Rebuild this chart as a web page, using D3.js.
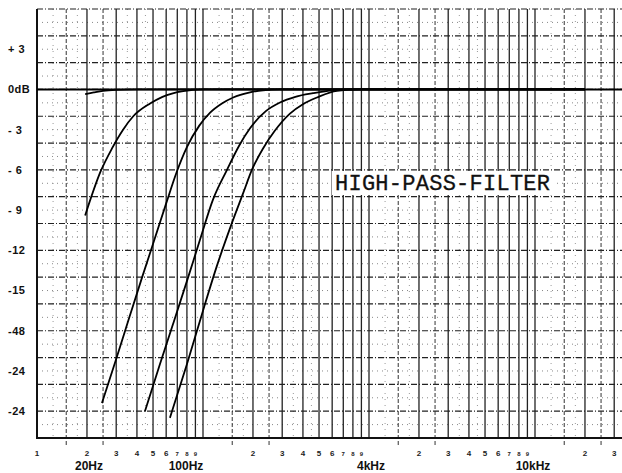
<!DOCTYPE html>
<html>
<head>
<meta charset="utf-8">
<script src="https://cdn.jsdelivr.net/npm/d3@7"></script>
<style>
body{margin:0;background:#fff;}
svg{display:block;}
</style>
</head>
<body>
<svg></svg>
<script>
// response curves, [Hz, dB]
var curveFlat = [[19.5,-0.35],[22,-0.22],[25,-0.1],[30,-0.03],[40,0],[20000,0]];
var curveA = [[19.5,-9.4],[24.2,-6.1],[28.3,-4.4],[33,-3.0],[38,-2.0],[48,-1.05],[57,-0.55],[76,-0.12],[100,0],[20000,0]];
var curveB = [[24.6,-23.4],[30,-20.1],[36,-17.0],[43,-14.0],[51,-11.2],[60,-8.5],[69.7,-6.1],[80,-4.3],[95,-2.7],[110,-1.75],[130,-1.05],[152,-0.6],[192,-0.22],[230,-0.06],[291,0],[20000,0]];
var curveC = [[44.7,-24],[55,-20.5],[66,-17.5],[80,-14.3],[96,-11.2],[115,-8.2],[139.5,-6],[165,-4.2],[192,-2.9],[240,-1.6],[291,-0.97],[360,-0.55],[460,-0.28],[607,-0.07],[883,0],[20000,0]];
var curveD = [[63.2,-24.5],[80,-20.5],[100,-16.5],[121,-13.2],[150,-9.9],[175,-7.7],[197,-6],[230,-4.4],[270,-3.1],[334,-1.8],[400,-1.1],[486,-0.6],[641,-0.1],[883,0],[20000,0]];
var curves = [curveFlat, curveA, curveB, curveC, curveD];

var yLabelVals = [3,0,-3,-6,-9,-12,-15,-18,-21,-24];
var yLabels = ["+ 3","0dB","- 3","- 6","- 9","-12","-15","-48","-24","-24"];
var decades = [10,100,1000,10000];
var smallDigits = ["1","2","3","4","5","6","7","8","9"];
var bigLabelFreqs = [20,100,1000,10000];
var bigLabels = ["20Hz","100Hz","4kHz","10kHz"];
var bigLabelShift = [2,-17,2,-2];
var title = "HIGH-PASS-FILTER";

var width = 622, height = 473;
var pLeft = 37, pRight = 622, pTop = 9, pBottom = 438;

var svg = d3.select("svg").attr("width", width).attr("height", height);

var x = d3.scaleLog().domain([10, 10000]).range([pLeft, 535]);
var y = d3.scaleLinear().domain([6, -26]).range([pTop, pBottom]);

// frequency grid
var major = [], minor = [];
decades.forEach(function(d){
	for(var k=1;k<10;k++){
		if(x(d*k) <= pRight) major.push(d*k);
	}
	[1.5,2.5].forEach(function(m){ if(x(d*m) <= pRight) minor.push(d*m); });
});
var faint = [];
decades.forEach(function(d){
	[1.25,1.75,3.5,4.5].forEach(function(m){ if(x(d*m) <= pRight) faint.push(d*m); });
});

var dbEven = d3.range(6, -27, -2);
var dbOdd = d3.range(5, -26, -2);

svg.selectAll(".hodd").data(dbOdd)
	.enter().append("line")
	.attr("x1", pLeft).attr("x2", pRight)
	.attr("y1", d => y(d)).attr("y2", d => y(d))
	.style("stroke", "#888").style("stroke-width", 1)
	.style("stroke-dasharray", "1,4");

svg.selectAll(".vfaint").data(faint)
	.enter().append("line")
	.attr("x1", d => x(d)).attr("x2", d => x(d))
	.attr("y1", pTop).attr("y2", pBottom)
	.style("stroke", "#999").style("stroke-width", 1)
	.style("stroke-dasharray", "1,5");

svg.selectAll(".heven").data(dbEven)
	.enter().append("line")
	.attr("x1", pLeft).attr("x2", pRight)
	.attr("y1", d => y(d)).attr("y2", d => y(d))
	.style("stroke", "#222").style("stroke-width", 1.2)
	.style("stroke-dasharray", "6,2,1,2");

svg.selectAll(".vminor").data(minor)
	.enter().append("line")
	.attr("x1", d => x(d)).attr("x2", d => x(d))
	.attr("y1", pTop).attr("y2", pBottom+8)
	.style("stroke", "#333").style("stroke-width", 1)
	.style("stroke-dasharray", "4,2");

svg.selectAll(".vmajor").data(major)
	.enter().append("line")
	.attr("x1", d => x(d)).attr("x2", d => x(d))
	.attr("y1", pTop).attr("y2", pBottom)
	.style("stroke", "#222").style("stroke-width", 1.3);

// frame
svg.append("line").attr("x1", pLeft).attr("x2", pLeft).attr("y1", pTop).attr("y2", pBottom+1)
	.style("stroke", "#111").style("stroke-width", 2);
svg.append("line").attr("x1", pLeft).attr("x2", pRight).attr("y1", pBottom).attr("y2", pBottom)
	.style("stroke", "#111").style("stroke-width", 2);
svg.append("line").attr("x1", pLeft).attr("x2", pRight).attr("y1", y(0)).attr("y2", y(0))
	.style("stroke", "#000").style("stroke-width", 2);

// title
svg.append("rect").attr("x", 332).attr("y", 171).attr("width", 224).attr("height", 24)
	.style("fill", "#fff");
svg.append("text").attr("x", 335).attr("y", 190)
	.attr("textLength", 215)
	.style("font-family", "'Liberation Mono', 'DejaVu Sans Mono', monospace")
	.style("font-size", "22px")
	.style("fill", "#111")
	.style("stroke", "#111").style("stroke-width", 0.3)
	.text(title);

// curves
var line = d3.line()
	.x(d => x(d[0]))
	.y(d => y(d[1]))
	.curve(d3.curveMonotoneX);

svg.selectAll(".curve").data(curves)
	.enter().append("path")
	.attr("d", line)
	.style("fill", "none")
	.style("stroke", "#000")
	.style("stroke-width", 1.8);

// y labels
svg.selectAll(".ylab").data(yLabelVals)
	.enter().append("text")
	.attr("x", 8)
	.attr("y", d => y(d))
	.attr("dy", "0.35em")
	.style("font-family", "'Liberation Sans', Arial, sans-serif")
	.style("font-weight", "bold")
	.style("font-size", "11px")
	.style("letter-spacing", "0.5px")
	.style("fill", "#111")
	.text((d,i) => yLabels[i]);

// small digits under axis
var digitData = [];
decades.forEach(function(d, di){
	smallDigits.forEach(function(s, k){
		var f = d*(k+1);
		if(k==0 && di>0) return;
		if(x(f) <= pRight) digitData.push({f:f, s:s, small:k>=6});
	});
});
svg.selectAll(".dig").data(digitData)
	.enter().append("text")
	.attr("x", d => x(d.f))
	.attr("y", 456)
	.attr("text-anchor", "middle")
	.style("font-family", "'Liberation Sans', Arial, sans-serif")
	.style("font-weight", "bold")
	.style("font-size", d => d.small ? "6px" : "8px")
	.style("fill", "#222")
	.text(d => d.s);

svg.selectAll(".big").data(bigLabelFreqs)
	.enter().append("text")
	.attr("x", (d,i) => x(d) + bigLabelShift[i])
	.attr("y", 470)
	.attr("text-anchor", "middle")
	.style("font-family", "'Liberation Sans', Arial, sans-serif")
	.style("font-weight", "bold")
	.style("font-size", "12px")
	.style("fill", "#111")
	.text((d,i) => bigLabels[i]);
</script>
</body>
</html>
